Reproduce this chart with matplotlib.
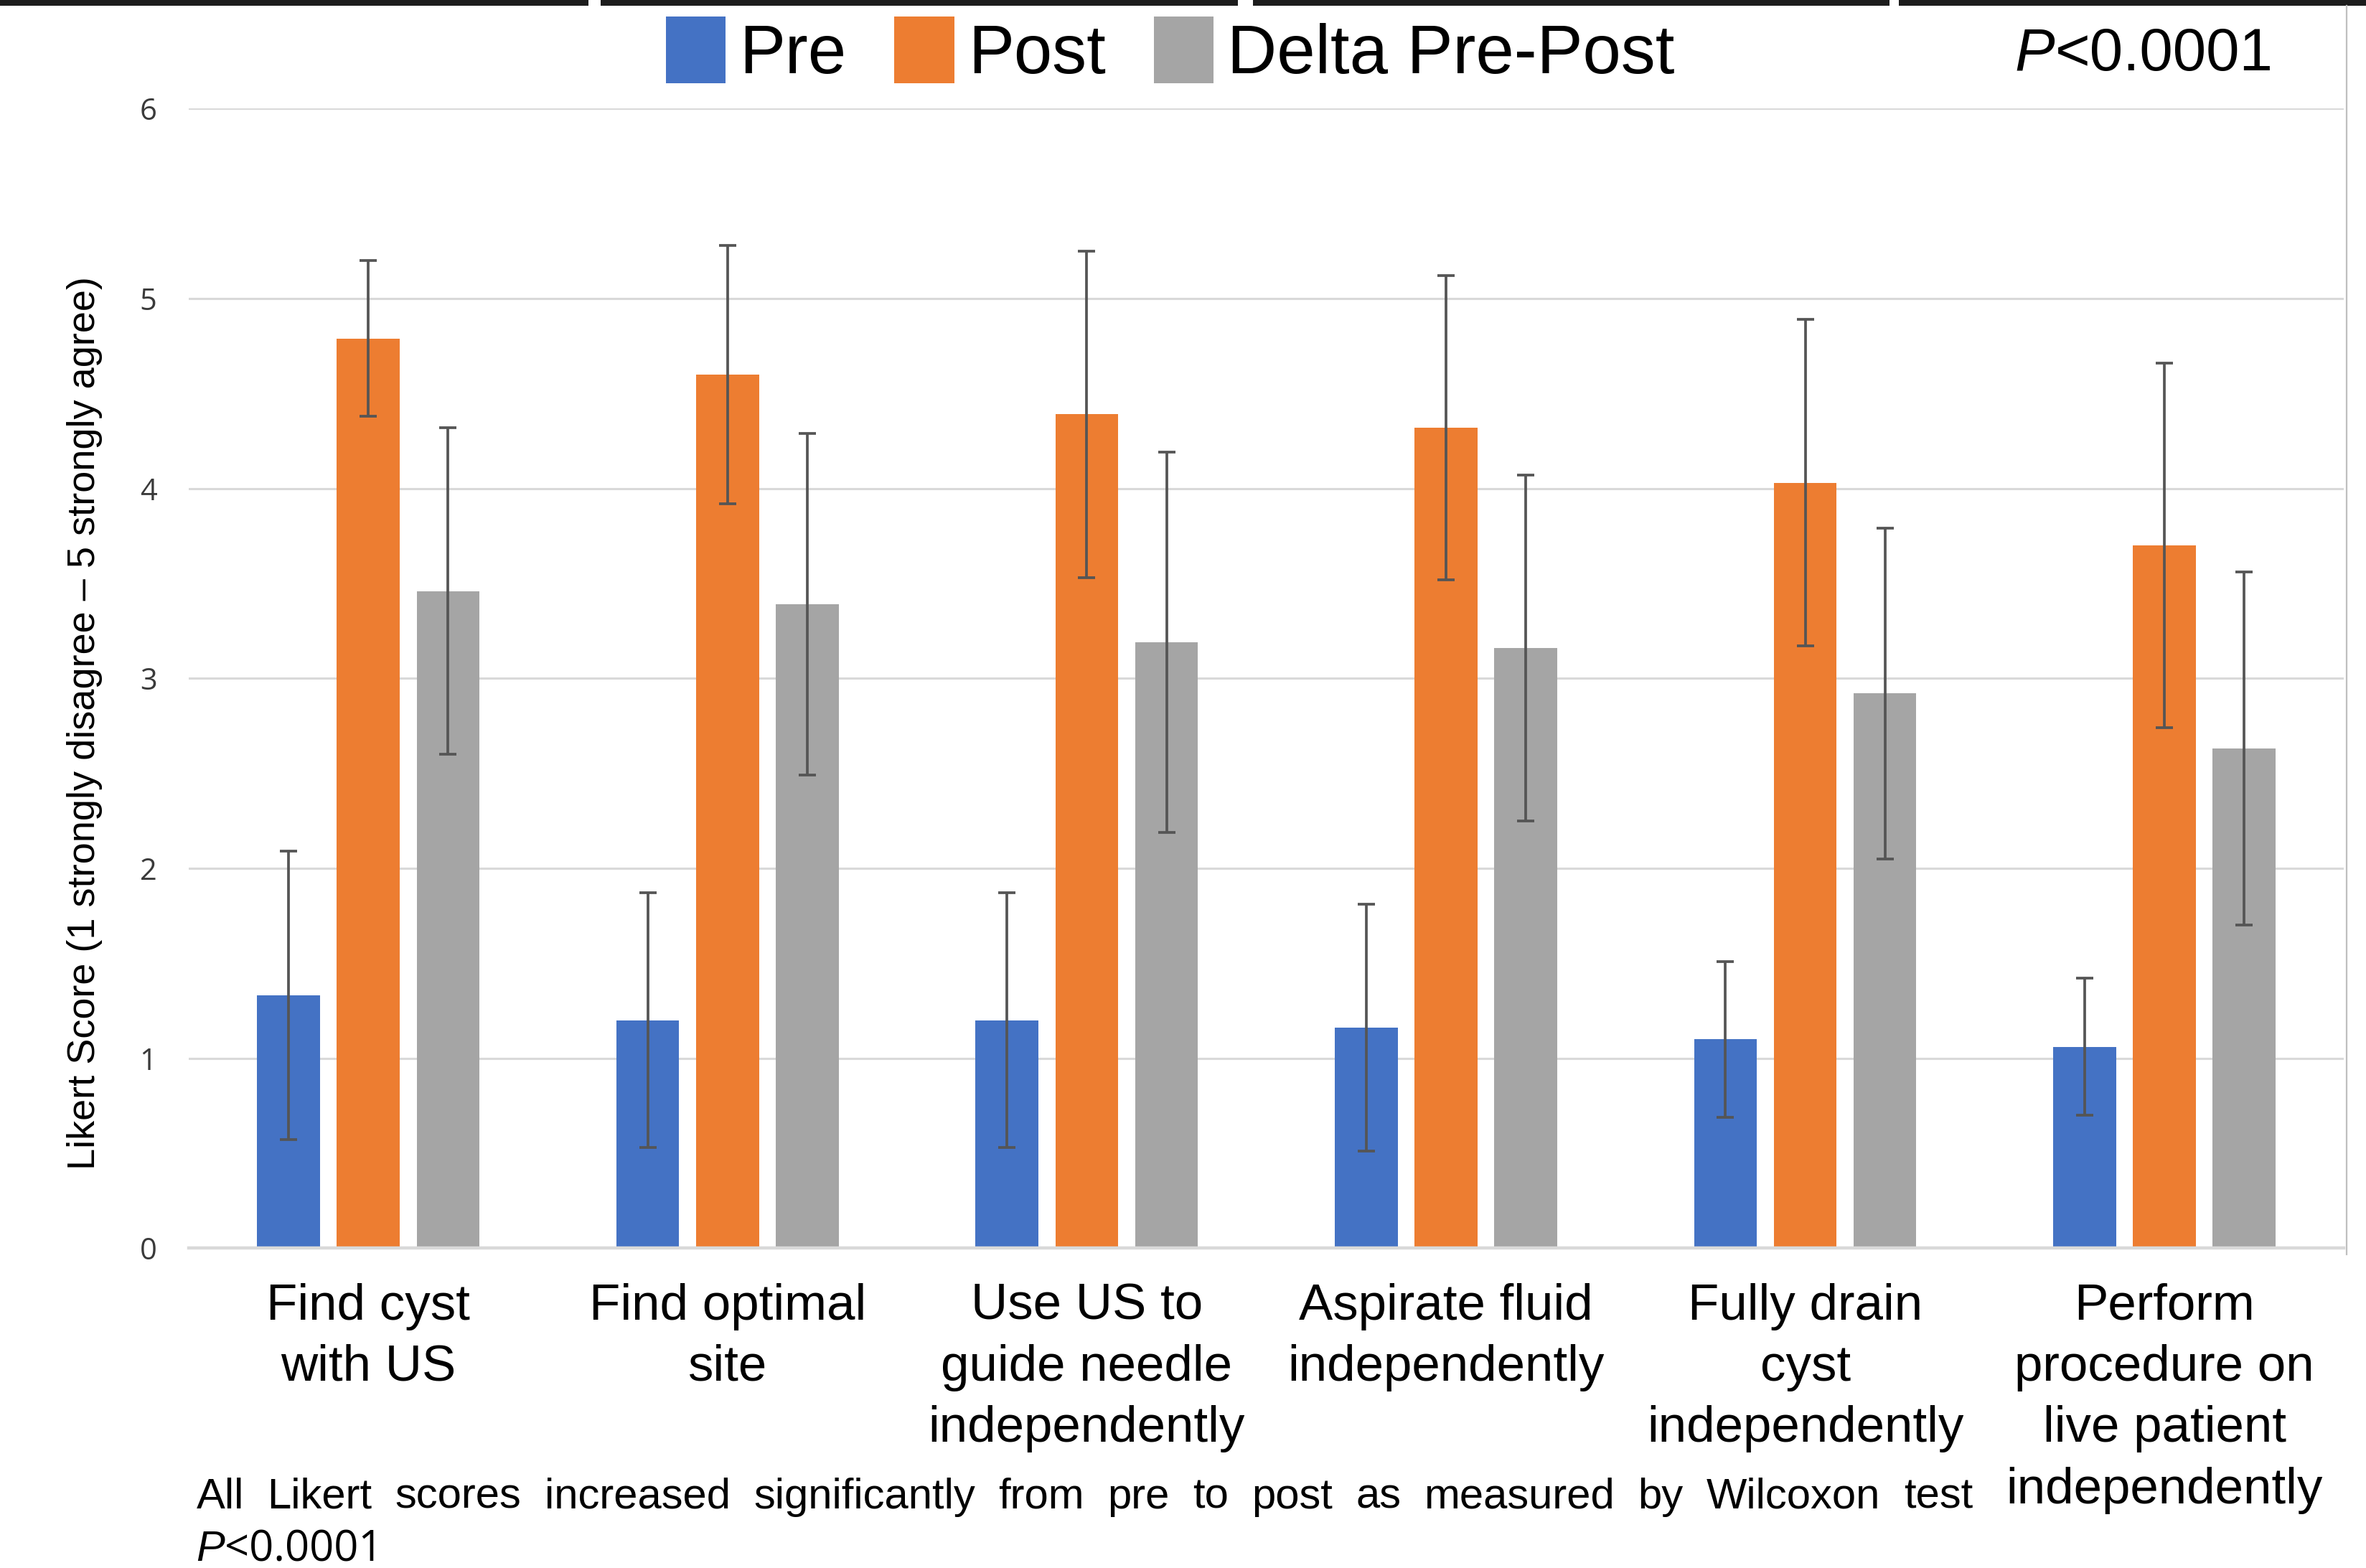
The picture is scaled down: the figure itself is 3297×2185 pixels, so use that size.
import matplotlib
matplotlib.use('Agg')
import matplotlib.pyplot as plt
import matplotlib.transforms as mtransforms
from matplotlib.patches import Rectangle
from matplotlib.lines import Line2D
import numpy as np

plt.rcParams['font.family'] = ['Liberation Sans', 'DejaVu Sans']

categories = [
    'Find cyst\nwith US',
    'Find optimal\nsite',
    'Use US to\nguide needle\nindependently',
    'Aspirate fluid\nindependently',
    'Fully drain\ncyst\nindependently',
    'Perform\nprocedure on\nlive patient\nindependently',
]
series_names = ['Pre', 'Post', 'Delta Pre-Post']
pre_mean   = [1.33, 1.20, 1.20, 1.16, 1.10, 1.06]
pre_err    = [0.76, 0.67, 0.67, 0.65, 0.41, 0.36]
post_mean  = [4.79, 4.60, 4.39, 4.32, 4.03, 3.70]
post_err   = [0.41, 0.68, 0.86, 0.80, 0.86, 0.96]
delta_mean = [3.46, 3.39, 3.19, 3.16, 2.92, 2.63]
delta_err  = [0.86, 0.90, 1.00, 0.91, 0.87, 0.93]
y_ticks = [0, 1, 2, 3, 4, 5, 6]

colors = ['#4472C4', '#ED7D31', '#A5A5A5']
err_color = '#555555'
grid_color = '#D9D9D9'

W, H = 3298, 2185
fig = plt.figure(figsize=(W / 200, H / 200), dpi=200)
fig.patch.set_facecolor('white')

ax = fig.add_axes([125 / 1568, 1 - 827 / 1039, (1553 - 125) / 1568, (827 - 72) / 1039])
ax.set_facecolor('white')

x = np.arange(len(categories))
offset = 0.222
width = 0.175
means = [pre_mean, post_mean, delta_mean]
errs = [pre_err, post_err, delta_err]
handles = []
for i, (m, e) in enumerate(zip(means, errs)):
    b = ax.bar(x + (i - 1) * offset, m, width, color=colors[i], label=series_names[i], zorder=2,
               yerr=e, error_kw=dict(ecolor=err_color, elinewidth=1.35, capsize=4.2, capthick=1.35, zorder=3))
    handles.append(b)

ax.set_xlim(-0.5, len(categories) - 0.5)
ax.set_ylim(0, 6)
ax.set_yticks(y_ticks)
ax.yaxis.grid(True, color=grid_color, linewidth=1.1, zorder=0)
ax.set_axisbelow(True)
for s in ['top', 'right', 'left']:
    ax.spines[s].set_visible(False)
ax.spines['bottom'].set_color(grid_color)
ax.spines['bottom'].set_linewidth(1.6)
ax.tick_params(axis='y', length=0, pad=16, labelsize=15, labelcolor='#3a3a3a')
ax.tick_params(axis='x', length=0)
for lab in ax.get_yticklabels():
    lab.set_family(['Open Sans', 'DejaVu Sans'])
ax.set_xticks(x)
ax.set_xticklabels([])

# category labels, top aligned under the axis
lab_tr = mtransforms.blended_transform_factory(ax.transData, fig.transFigure)
for xi, cat in zip(x, categories):
    ax.text(xi, 1 - 850 / 1039, cat, transform=lab_tr,
            ha='center', va='top', fontsize=25.5, linespacing=1.38, color='black')

fig.text(56 / 1568, 1 - 479 / 1039, 'Likert Score (1 strongly disagree \u2013 5 strongly agree)',
         rotation=90, ha='center', va='center', fontsize=19.5, color='black')

leg = fig.legend(handles=handles, labels=series_names, loc='upper left',
                 bbox_to_anchor=(441 / 1568, 1 - 11 / 1039), ncol=3, frameon=False,
                 fontsize=34.5, handlelength=0.87, handleheight=1.12, handletextpad=0.2,
                 columnspacing=0.7, borderpad=0, borderaxespad=0)

renderer = fig.canvas.get_renderer()

# P value at top right
p_P = fig.text(1335 / 1568, 1 - 36 / 1039, 'P', style='italic', ha='left', va='center', fontsize=30)
pw_top = p_P.get_window_extent(renderer).width / W
fig.text(1335 / 1568 + pw_top, 1 - 36 / 1039, '<0.0001', ha='left', va='center', fontsize=30)

# footnote, justified across the first line
footnote = 'All Likert scores increased significantly from pre to post as measured by Wilcoxon test'
words = footnote.split()
word_texts = [fig.text(0, 1 - 992 / 1039, w, ha='left', va='center', fontsize=21.5) for w in words]
widths = [t.get_window_extent(renderer).width / W for t in word_texts]
x0, x1 = 130 / 1568, 1307 / 1568
gap = (x1 - x0 - sum(widths)) / (len(words) - 1)
pos = x0
for t, w in zip(word_texts, widths):
    t.set_x(pos)
    pos += w + gap

pt = fig.text(130 / 1568, 1 - 1027 / 1039, 'P', style='italic', ha='left', va='center', fontsize=21.5)
pw = pt.get_window_extent(renderer).width / W
fig.text(130 / 1568 + pw, 1 - 1027 / 1039, '<0.0001', ha='left', va='center', fontsize=21.5,
         family=['Open Sans', 'DejaVu Sans'])

# dark strips along the top edge (cropped slide artefact)
for a, b in [(0, 820), (837, 1725), (1746, 2633), (2646, 3298)]:
    fig.patches.append(Rectangle((a / W, 1 - 8 / H), (b - a) / W, 8 / H, transform=fig.transFigure,
                                 facecolor='#1c1c1c', edgecolor='none'))

# chart frame right edge
fig.lines.append(Line2D([3270 / W, 3270 / W], [1 - 1748 / H, 1 - 8 / H], transform=fig.transFigure,
                        color='#BFBFBF', linewidth=0.8))

fig.savefig('out.png', dpi=200, facecolor='white')
